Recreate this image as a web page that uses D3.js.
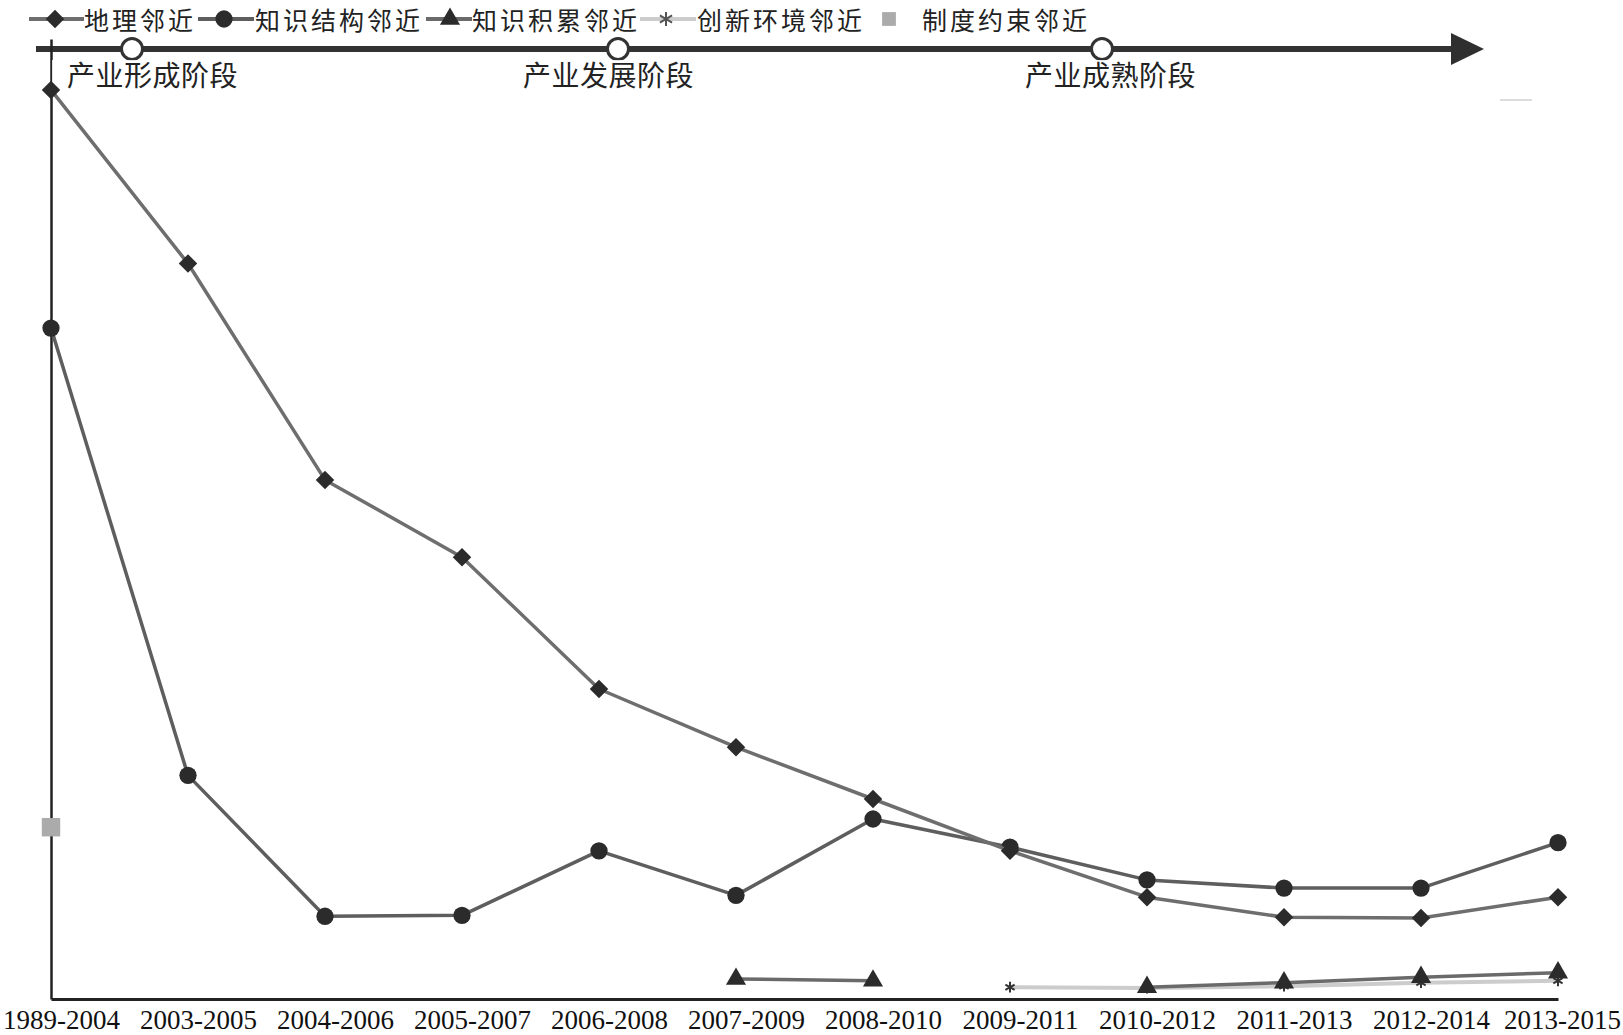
<!DOCTYPE html>
<html><head><meta charset="utf-8">
<script src="https://cdn.jsdelivr.net/npm/d3@7"></script>
<style>
html,body{margin:0;padding:0;background:#fff;overflow:hidden;}
svg{display:block;}
</style></head>
<body>
<svg id="chart" width="1623" height="1035"></svg>
<script>
// ---- data ----
const categories = ["1989-2004","2003-2005","2004-2006","2005-2007","2006-2008","2007-2009","2008-2010","2009-2011","2010-2012","2011-2013","2012-2014","2013-2015"];
const geoProximity = [100, 80.9, 57.1, 48.6, 34.1, 27.7, 22.0, 16.3, 11.2, 9.0, 8.9, 11.2];
const knowledgeStructure = [73.8, 24.6, 9.1, 9.2, 16.3, 11.4, 19.8, 16.7, 13.1, 12.2, 12.2, 17.2];
const knowledgeAccumulation = [null, null, null, null, null, 2.2, 2.0, null, 1.3, 1.8, 2.4, 2.9];
const innovationEnv = [null, null, null, null, null, null, null, 1.3, 1.2, 1.4, 1.8, 2.0];
const institutional = [18.9, null, null, null, null, null, null, null, null, null, null, null];
const seriesNames = ["地理邻近", "知识结构邻近", "知识积累邻近", "创新环境邻近", "制度约束邻近"];
const stageLabels = ["产业形成阶段", "产业发展阶段", "产业成熟阶段"];

// ---- layout ----
const svg = d3.select("#chart");
const x = d3.scalePoint().domain(categories).range([51, 1558]);
const y = d3.scaleLinear().domain([0, 105.6]).range([999, 39]);
const cjk = "'Noto Sans CJK SC','Noto Sans',sans-serif";
const dark = "#2b2b2b";

// ---- timeline ----
const tl = svg.append("g");
tl.append("line").attr("x1", 36).attr("x2", 1456).attr("y1", 49).attr("y2", 49)
  .attr("stroke", "#333").attr("stroke-width", 6);
tl.append("path").attr("d", "M1451,33 L1484,49 L1451,65 Z").attr("fill", "#2f2f2f");
const stageX = [132, 618, 1102];
tl.selectAll("circle").data(stageX).join("circle")
  .attr("cx", d => d).attr("cy", 49).attr("r", 10.5)
  .attr("fill", "#fff").attr("stroke", "#333").attr("stroke-width", 3);

// ---- axes ----
const xAxis = svg.append("g").attr("transform", "translate(0,999)")
  .call(d3.axisBottom(x).tickSize(0).tickSizeOuter(0));
xAxis.select(".domain").attr("stroke", "#222").attr("stroke-width", 3);
xAxis.selectAll("text")
  .attr("x", (d, i) => i === categories.length - 1 ? 4 : 10)
  .attr("y", 30).attr("dy", "0")
  .attr("fill", "#111")
  .style("font-family", "'Liberation Serif','Times New Roman',serif")
  .style("font-size", "27px");

const yAxis = svg.append("g").attr("transform", "translate(51,0)")
  .call(d3.axisLeft(y).tickValues([]).tickSizeOuter(0));
yAxis.select(".domain").attr("stroke", "#222").attr("stroke-width", 2.5);

// stage label boxes + labels
const stageBoxes = [[52, 60, 200, 36], [490, 60, 240, 36], [965, 60, 240, 36]];
svg.selectAll("rect.sb").data(stageBoxes).join("rect").attr("class", "sb")
  .attr("x", d => d[0]).attr("y", d => d[1]).attr("width", d => d[2]).attr("height", d => d[3])
  .attr("fill", "#fff").attr("opacity", 0.85);
const stageTextX = [67, 523, 1025];
svg.selectAll("text.stage").data(stageLabels).join("text").attr("class", "stage")
  .attr("x", (d, i) => stageTextX[i]).attr("y", 86)
  .attr("fill", "#222").style("font-family", cjk).style("font-size", "28px")
  .style("letter-spacing", "0.5px").text(d => d);
svg.append("line").attr("x1", 1500).attr("x2", 1532).attr("y1", 100).attr("y2", 100)
  .attr("stroke", "#ddd").attr("stroke-width", 2);

// ---- series ----
const line = d3.line().defined(d => d.v != null).x(d => x(d.c)).y(d => y(d.v));
const toPts = arr => categories.map((c, i) => ({ c, v: arr[i] }));

const diamond = d3.symbol().type(d3.symbolSquare).size(170);
const circleSym = d3.symbol().type(d3.symbolCircle).size(235);
const tri = d3.symbol().type(d3.symbolTriangle).size(175);
const star = d3.symbol().type(d3.symbolAsterisk).size(80);
const square = d3.symbol().type(d3.symbolSquare).size(340);

function drawSeries(arr, lineColor, lineWidth, sym, rotate, fill, stroke) {
  const pts = toPts(arr);
  svg.append("path").datum(pts).attr("d", line)
    .attr("fill", "none").attr("stroke", lineColor).attr("stroke-width", lineWidth)
    .attr("stroke-linejoin", "round");
  svg.append("g").selectAll("path").data(pts.filter(d => d.v != null)).join("path")
    .attr("d", sym)
    .attr("transform", d => `translate(${x(d.c)},${y(d.v)})${rotate ? " rotate(45)" : ""}`)
    .attr("fill", fill).attr("stroke", stroke || "none").attr("stroke-width", stroke ? 2 : 0);
}

drawSeries(innovationEnv, "#cccccc", 4, star, false, "none", "#333");
drawSeries(knowledgeAccumulation, "#6a6a6a", 3.5, tri, false, dark);
drawSeries(knowledgeStructure, "#5e5e5e", 3.5, circleSym, false, dark);
drawSeries(geoProximity, "#6e6e6e", 3.5, diamond, true, dark);
drawSeries(institutional, "none", 0, square, false, "#ababab");

// ---- legend ----
const legY = 19;
const legend = svg.append("g");
const legItems = [
  { lx1: 29, lx2: 84, mx: 55, sym: diamond, rot: true, fill: dark, lc: "#6e6e6e", tx: 84 },
  { lx1: 198, lx2: 254, mx: 224, sym: circleSym, rot: false, fill: dark, lc: "#5e5e5e", tx: 255 },
  { lx1: 426, lx2: 472, mx: 450, sym: tri, rot: false, fill: dark, lc: "#6a6a6a", tx: 472 },
  { lx1: 640, lx2: 696, mx: 666, sym: d3.symbol().type(d3.symbolAsterisk).size(140), rot: false, fill: "none", stroke: "#555", lc: "#cccccc", tx: 697 },
  { lx1: null, lx2: null, mx: 889, sym: d3.symbol().type(d3.symbolSquare).size(190), rot: false, fill: "#ababab", lc: "none", tx: 922 }
];
legItems.forEach((it, i) => {
  if (it.lx1 != null) {
    legend.append("line").attr("x1", it.lx1).attr("x2", it.lx2).attr("y1", legY).attr("y2", legY)
      .attr("stroke", it.lc).attr("stroke-width", 4);
  }
  legend.append("path").attr("d", it.sym)
    .attr("transform", `translate(${it.mx},${legY})${it.rot ? " rotate(45)" : ""}`)
    .attr("fill", it.fill).attr("stroke", it.stroke || "none").attr("stroke-width", it.stroke ? 2 : 0);
  legend.append("text").attr("x", it.tx).attr("y", 30)
    .attr("fill", "#222").style("font-family", cjk).style("font-size", "25px")
    .style("letter-spacing", "3px")
    .text(seriesNames[i]);
});
</script>
</body></html>
